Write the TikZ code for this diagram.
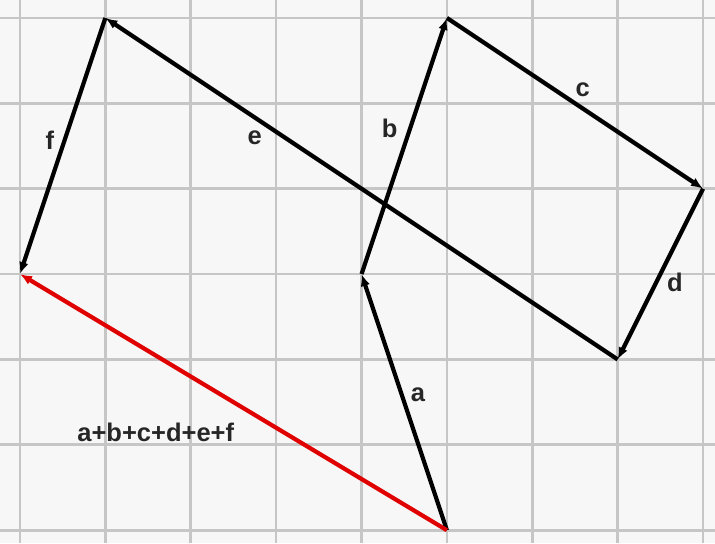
\documentclass[tikz,border=0pt]{standalone}
\usepackage{fontspec}
\setmainfont{Liberation Sans}
\usetikzlibrary{arrows.meta}
\definecolor{bg}{HTML}{F7F7F7}
\definecolor{gridc}{HTML}{C6C6C6}
\definecolor{vred}{HTML}{E00000}
\tikzset{
  vec/.style={line width=1.4pt, -{Latex[length=4pt,width=3.2pt]}},
  redvec/.style={vec, draw=vred},
  lbl/.style={font=\fontsize{8.5}{10}\selectfont\bfseries, text=black!85, inner sep=0pt}
}
\begin{document}
\begin{tikzpicture}[x=1cm,y=1cm]
\fill[bg] (-0.234,-6.15) rectangle (8.14,0.21);
\useasboundingbox (-0.234,-6.15) rectangle (8.14,0.21);
\foreach \i in {0,...,8} \draw[gridc, line width=0.9pt] (\i,-6.15) -- (\i,0.21);
\foreach \j in {0,...,6} \draw[gridc, line width=0.9pt] (-0.234,-\j) -- (8.14,-\j);
\coordinate (P0) at (5,-6);
\coordinate (P1) at (4,-3);
\coordinate (P2) at (5,0);
\coordinate (P3) at (8,-2);
\coordinate (P4) at (7,-4);
\coordinate (P5) at (1,0);
\coordinate (P6) at (0,-3);
\draw[vec] (P0) -- (P1);
\draw[vec] (P1) -- (P2);
\draw[vec] (P2) -- (P3);
\draw[vec] (P3) -- (P4);
\draw[vec] (P4) -- (P5);
\draw[vec] (P5) -- (P6);
\draw[redvec] (P0) -- (P6);
\node[lbl] (la) at (4.66,-4.41) {a};
\node[lbl] (lb) at (4.33,-1.29) {b};
\node[lbl] (lc) at (6.59,-0.84) {c};
\node[lbl] (ld) at (7.67,-3.1) {d};
\node[lbl] (le) at (2.75,-1.4) {e};
\node[lbl] (lf) at (0.35,-1.43) {f};
\node[lbl] (ls) at (1.59,-4.85) {a+b+c+d+e+f};
\end{tikzpicture}
\end{document}
